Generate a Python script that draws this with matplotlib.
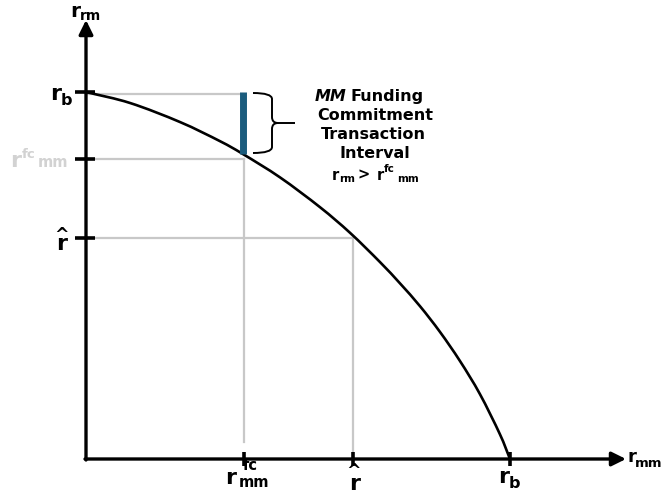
import numpy as np
import matplotlib
matplotlib.use("Agg")
import matplotlib.pyplot as plt
from matplotlib.path import Path
from matplotlib.patches import PathPatch

plt.rcParams['font.family'] = ['DejaVu Sans']

# ---------------- data (normalised units: r_b = 1 on both axes) ----------------
curve_rmm = [0.000, 0.104, 0.222, 0.316, 0.370, 0.458, 0.552, 0.623, 0.693,
             0.741, 0.788, 0.835, 0.882, 0.929, 0.976, 1.000]
curve_rrm = [1.000, 0.970, 0.918, 0.866, 0.831, 0.767, 0.686, 0.616, 0.537,
             0.478, 0.416, 0.346, 0.267, 0.177, 0.068, 0.000]

x_tick_names = ['r_fc_mm', 'r_hat', 'r_b']
x_tick_vals = [0.373, 0.630, 1.000]
y_tick_names = ['r_b', 'r_fc_mm', 'r_hat']
y_tick_vals = [1.000, 0.817, 0.601]

interval_rrm = [0.831, 1.000]       # MM funding commitment interval at r_fc_mm

# ---------------- figure ----------------
W, H = 663, 497
fig = plt.figure(figsize=(W / 100, H / 100), dpi=100)
ax = fig.add_axes([0, 0, 1, 1])
OX, OY, SX, SY = 86, 459, 424, 367          # pixel position of origin & unit scale
ax.set_xlim(-OX / SX, (W - OX) / SX)
ax.set_ylim(-(H - OY) / SY, OY / SY)
ax.axis('off')


def P(xp, yp):
    """layout helper: pixel position -> data position"""
    return ((xp - OX) / SX, (OY - yp) / SY)


GRAY = '#c8c8c8'
LGRAY = '#d2d2d2'
BLUE = '#1b5c7d'

xfc, xhat, xb = x_tick_vals
yb, yfc, yhat = y_tick_vals

# gray guide lines
ax.plot([0, xfc - 0.004], [yb - 2.5 / SY] * 2, color=GRAY, lw=1.6, zorder=1)
ax.plot([0, xfc], [yfc, yfc], color=GRAY, lw=1.6, zorder=1)
ax.plot([xfc, xfc], [yfc, 17 / SY], color=GRAY, lw=1.6, zorder=1)
ax.plot([0, xhat], [yhat, yhat], color=GRAY, lw=1.6, zorder=1)
ax.plot([xhat, xhat], [yhat, 0], color=GRAY, lw=1.6, zorder=1)

# curve: smooth path (Catmull-Rom -> cubic Bezier) through the read points
pts = np.column_stack([curve_rmm, curve_rrm])
ext = np.vstack([2 * pts[0] - pts[1], pts, 2 * pts[-1] - pts[-2]])
verts = [tuple(pts[0])]
codes = [Path.MOVETO]
for i in range(len(pts) - 1):
    p0, p1, p2, p3 = ext[i], ext[i + 1], ext[i + 2], ext[i + 3]
    c1 = p1 + (p2 - p0) / 6.0
    c2 = p2 - (p3 - p1) / 6.0
    verts += [tuple(c1), tuple(c2), tuple(p2)]
    codes += [Path.CURVE4] * 3
ax.add_patch(PathPatch(Path(verts, codes), fill=False, lw=1.9, color='black',
                       capstyle='round', zorder=3))

# interval bar
ax.plot([xfc - 1.5 / SX] * 2, interval_rrm, color=BLUE, lw=5.0,
        solid_capstyle='butt', zorder=4)

# axes with arrows
arrow = dict(arrowstyle='-|>,head_length=0.85,head_width=0.42', lw=2.4,
             color='black', shrinkA=0, shrinkB=0, mutation_scale=10)
ax.annotate('', xy=P(OX, 20), xytext=P(OX, OY + 1), arrowprops=arrow, zorder=5)
ax.annotate('', xy=P(626, OY), xytext=P(OX - 1, OY), arrowprops=arrow, zorder=5)

# tick marks
ax.plot([-1.0 / SX] * 3, y_tick_vals, ls='none', marker='_', ms=14.5, mew=2.6,
        color='black', zorder=6)
ax.plot(x_tick_vals, [0] * 3, ls='none', marker='|', ms=10, mew=2.6,
        color='black', zorder=6)


def T(s, xp, yp, size, color='black', ha='left', va='baseline', style='normal',
      weight='bold'):
    ax.text(*P(xp, yp), s, fontsize=size, color=color, ha=ha, va=va,
            fontstyle=style, fontweight=weight, zorder=7)


# y-axis title
T('r', 70, 17, 14.5)
T('rm', 80, 20, 10)
# x-axis title
T('r', 627, 462, 13)
T('mm', 635, 467, 9.5)

# y tick labels
T('r', 50, 100, 16)
T('b', 61, 105, 11.5)
T('r', 10, 167, 16, color=LGRAY)
T('fc', 22, 158, 9.5, color=LGRAY)
T('mm', 38, 167, 10.5, color=LGRAY)
T('^', 61, 240, 12.5, ha='center')
T('r', 56, 250, 16)

# x tick labels
T('r', 225, 484, 16)
T('fc', 243, 470, 10.5)
T('mm', 239, 487, 10.5)
T('^', 353, 476, 12.5, ha='center')
T('r', 349, 490, 16)
T('r', 498, 483, 16)
T('b', 509, 488, 11.5)

# curly brace
bx0, bsp, btip, ytop, ybot = 253, 272, 295, 93, 153
ymid = (ytop + ybot) / 2
r = 6
bverts = [P(bx0, ytop), P(bsp, ytop), P(bsp, ytop + r),
          P(bsp, ymid - r), P(bsp, ymid), P(bsp + r, ymid),
          P(btip, ymid),
          P(bsp + r, ymid), P(bsp, ymid), P(bsp, ymid + r),
          P(bsp, ybot - r), P(bsp, ybot), P(bx0, ybot)]
bcodes = [Path.MOVETO, Path.CURVE3, Path.CURVE3,
          Path.LINETO, Path.CURVE3, Path.CURVE3,
          Path.LINETO,
          Path.MOVETO, Path.CURVE3, Path.CURVE3,
          Path.LINETO, Path.CURVE3, Path.CURVE3]
ax.add_patch(PathPatch(Path(bverts, bcodes), fill=False, lw=1.4, color='black', zorder=5))

# interval annotation
T('MM', 346, 101, 11.5, style='italic', ha='right')
T('Funding', 350, 101, 11.5)
T('Commitment', 375, 120, 11.5, ha='center')
T('Transaction', 373, 139, 11.5, ha='center')
T('Interval', 375, 158, 11.5, ha='center')
T('r', 332, 180, 10.5)
T('rm', 339, 182, 7.5)
T('>', 357, 179, 10.5)
T('r', 377, 180, 10.5)
T('fc', 384, 172, 7.5)
T('mm', 397, 182, 7.5)

fig.savefig('out.png', dpi=100)
